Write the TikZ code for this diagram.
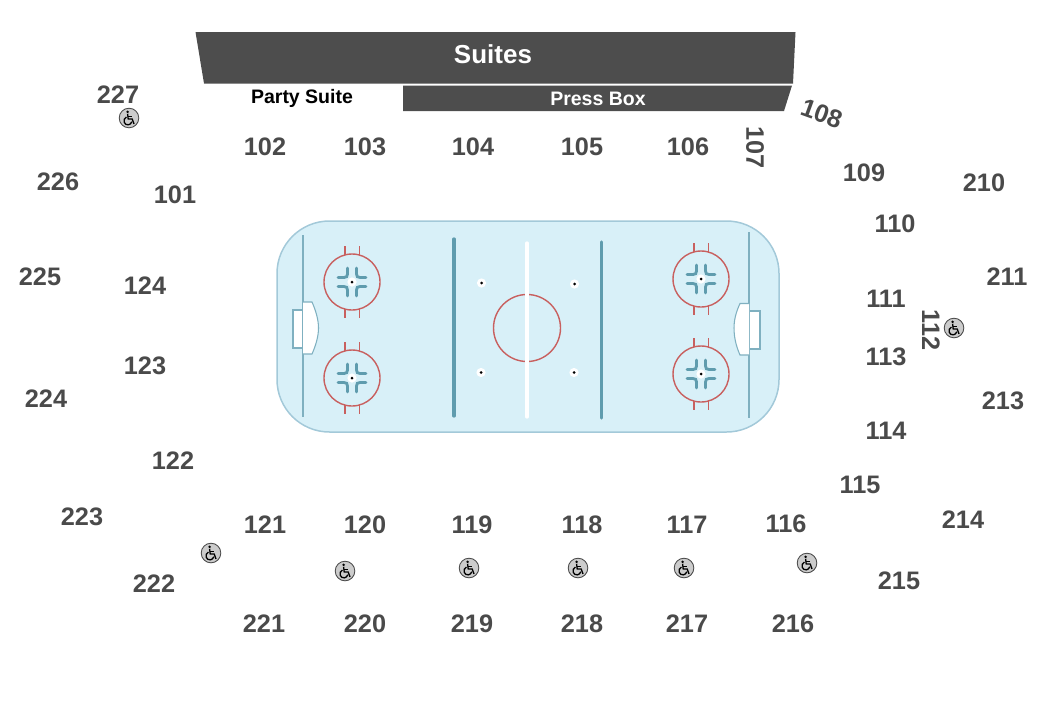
\documentclass[tikz,border=0pt]{standalone}
\usepackage{fontspec}
\setmainfont{Liberation Sans}

\definecolor{ice}{HTML}{D8F0F8}
\definecolor{boards}{HTML}{A3C9D9}
\definecolor{blueline}{HTML}{5F9CAE}
\definecolor{goalline}{HTML}{7FB0C0}
\definecolor{redline}{HTML}{C8605F}
\definecolor{block}{HTML}{4D4D4D}
\definecolor{seat}{HTML}{4A4A4A}
\definecolor{badge}{HTML}{CCCCCC}

\tikzset{
  section/.style={font=\fontsize{14.4}{16}\selectfont\bfseries, text=seat, inner sep=0pt, yshift=-0.5pt},
  title/.style={font=\fontsize{14.8}{16}\selectfont\bfseries, text=white, inner sep=0pt, yshift=0.4pt},
  subtitle/.style={font=\fontsize{11.1}{13}\selectfont\bfseries, inner sep=0pt, yshift=-0.8pt},
  spot/.pic={
    \fill[white] (0,0) circle [radius=4.6];
    \fill[black] (0,0) circle [radius=1.5];
  },
  faceoff/.pic={
    \draw[redline, line width=0.8pt] (0,0) circle [radius=28];
    \draw[redline, line width=0.8pt] (-7,-27) -- (-7,-36);
    \draw[redline, line width=0.8pt] (7.5,-27) -- (7.5,-36);
    \draw[redline, line width=0.8pt] (-7,27) -- (-7,36);
    \draw[redline, line width=0.8pt] (7.5,27) -- (7.5,36);
    \draw[blueline, line width=1.6pt, line cap=round] (-14,-4.5) -- (-8,-4.5) .. controls (-5.5,-4.5) and (-4.5,-5.5) .. (-4.5,-8) -- (-4.5,-14);
    \draw[blueline, line width=1.6pt, line cap=round] (14,-4.5) -- (8,-4.5) .. controls (5.5,-4.5) and (4.5,-5.5) .. (4.5,-8) -- (4.5,-14);
    \draw[blueline, line width=1.6pt, line cap=round] (-14,4.5) -- (-8,4.5) .. controls (-5.5,4.5) and (-4.5,5.5) .. (-4.5,8) -- (-4.5,14);
    \draw[blueline, line width=1.6pt, line cap=round] (14,4.5) -- (8,4.5) .. controls (5.5,4.5) and (4.5,5.5) .. (4.5,8) -- (4.5,14);
    \pic {spot};
  },
  wheelchair/.pic={
    \draw[seat, fill=badge, line width=0.5pt] (0,0) circle [radius=9.8];
    \fill[black] (-1.4,-6.2) circle [radius=1.4];
    \draw[black, line width=0.75pt] (-1.4,-4.2) -- (-0.8,1) -- (3.2,1) -- (5,6);
    \draw[black, line width=0.75pt] (-1,-1.4) -- (2.8,-1.4);
    \draw[black, line width=0.75pt] (-2.6,-1) .. controls (-7.2,1.6) and (-4.6,7.6) .. (-0.6,6.8) .. controls (1,6.5) and (2.2,5.4) .. (2.8,3.8);
  }
}

\begin{document}
\begin{tikzpicture}[x=0.02cm, y=-0.02cm]
  \useasboundingbox (0,0) rectangle (1050,700);

  % suites
  \fill[block] (195.5,32) -- (795.5,32) -- (793,83.5) -- (204,83.5) -- cycle;
  \fill[block] (403,85.5) -- (792,85.5) -- (784,111) -- (403,111) -- cycle;
  \node[title] (suites) at (493,55) {Suites};
  \node[subtitle] (party) at (302,97) {Party Suite};
  \node[subtitle, text=white] (press) at (598,97) {Press Box};

  % rink
  \draw[boards, fill=ice, line width=0.85pt, rounded corners=1.05cm] (277,221) rectangle (779,432);
  \draw[goalline, line width=0.7pt] (303,235) -- (303,417);
  \draw[goalline, line width=0.7pt] (749,232) -- (749,418);
  \draw[blueline, line width=1.9pt, line cap=round] (454,239) -- (454,416);
  \draw[blueline, line width=1.9pt, line cap=round] (601.5,242) -- (601.5,418);
  \draw[redline, line width=0.8pt] (527,328) circle [radius=33.5];
  \draw[white, line width=1.9pt, line cap=round] (527,243) -- (527,417);

  % creases
  \draw[goalline, fill=white, line width=0.6pt] (293,310) rectangle (303,348);
  \draw[goalline, fill=white, line width=0.6pt] (749,311) rectangle (760,349);
  \draw[goalline, fill=white, line width=0.6pt] (303,302) -- (312,302) .. controls (316,311) and (318.5,320) .. (318.5,328) .. controls (318.5,336) and (316,345) .. (312,354) -- (303,354);
  \draw[goalline, fill=white, line width=0.6pt] (749,303.5) -- (740,303.5) .. controls (736,312) and (734,320) .. (734,328) .. controls (734,337) and (736,346) .. (740,355) -- (749,355);

  % faceoff circles and dots
  \pic at (352,282) {faceoff};
  \pic at (352,378) {faceoff};
  \pic at (701,279) {faceoff};
  \pic at (701,374) {faceoff};
  \pic at (481.5,283) {spot};
  \pic at (574.5,284) {spot};
  \pic at (481,372.5) {spot};
  \pic at (574,372.5) {spot};

  % lower numbers
  \node[section] (s101) at (175,194) {101};
  \node[section] (s102) at (265,146) {102};
  \node[section] (s103) at (365,146) {103};
  \node[section] (s104) at (473,146) {104};
  \node[section] (s105) at (582,146) {105};
  \node[section] (s106) at (688,146) {106};
  \node[section, rotate=-90] (s107) at (755,147) {107};
  \node[section, rotate=-20] (s108) at (822,113) {108};
  \node[section] (s109) at (864,172) {109};
  \node[section] (s110) at (895,223) {110};
  \node[section] (s111) at (886,298) {111};
  \node[section, rotate=-90] (s112) at (931,329) {112};
  \node[section] (s113) at (886,356) {113};
  \node[section] (s114) at (886,430) {114};
  \node[section] (s115) at (860,484) {115};
  \node[section] (s116) at (786,523) {116};
  \node[section] (s117) at (687,524) {117};
  \node[section] (s118) at (582,524) {118};
  \node[section] (s119) at (472,524) {119};
  \node[section] (s120) at (365,524) {120};
  \node[section] (s121) at (265,524) {121};
  \node[section] (s122) at (173,460) {122};
  \node[section] (s123) at (145,365) {123};
  \node[section] (s124) at (145,285) {124};

  % upper numbers
  \node[section] (s210) at (984,182) {210};
  \node[section] (s211) at (1007,276) {211};
  \node[section] (s213) at (1003,400) {213};
  \node[section] (s214) at (963,519) {214};
  \node[section] (s215) at (899,580) {215};
  \node[section] (s216) at (793,623) {216};
  \node[section] (s217) at (687,623) {217};
  \node[section] (s218) at (582,623) {218};
  \node[section] (s219) at (472,623) {219};
  \node[section] (s220) at (365,623) {220};
  \node[section] (s221) at (264,623) {221};
  \node[section] (s222) at (154,583) {222};
  \node[section] (s223) at (82,516) {223};
  \node[section] (s224) at (46,398) {224};
  \node[section] (s225) at (40,276) {225};
  \node[section] (s226) at (58,181) {226};
  \node[section] (s227) at (118,94) {227};

  % accessible seating
  \pic at (129,118) {wheelchair};
  \pic at (954,328) {wheelchair};
  \pic at (211,553) {wheelchair};
  \pic at (345,571) {wheelchair};
  \pic at (469,568) {wheelchair};
  \pic at (578,568) {wheelchair};
  \pic at (684,568) {wheelchair};
  \pic at (807,563) {wheelchair};
\end{tikzpicture}
\end{document}
